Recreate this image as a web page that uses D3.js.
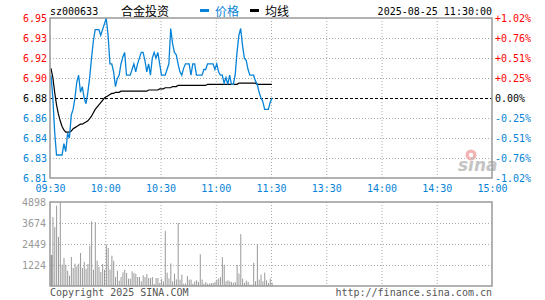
<!DOCTYPE html>
<html>
<head>
<meta charset="utf-8">
<script src="https://cdn.jsdelivr.net/npm/d3@7"></script>
<style>
  body { margin: 0; background: #fff; }
  text { font-family: "DejaVu Sans Mono", monospace; font-size: 10px; }
</style>
</head>
<body>
<div id="chart"></div>
<script>
const SVG_WIDTH = 545;
const SVG_HEIGHT = 300;
const PLOT = { LEFT: 50, RIGHT: 492, TOP: 18, BOTTOM: 178 };   //分时区
const VOL = { TOP: 202, BOTTOM: 286 };                          //成交量区
const RED = '#ff0000', BLUE = '#0683d6', GRAY = '#999999';

// ---- 数据 ----
const stockCode = 'sz000633';
const stockName = '合金投资';
const stamp = '2025-08-25 11:30:00';
const prevClose = 6.88;
const priceRange = [6.8098, 6.9502];
const priceTicks = ['6.95', '6.93', '6.92', '6.90', '6.88', '6.86', '6.84', '6.83', '6.81'];
const pctTicks = ['+1.02%', '+0.76%', '+0.51%', '+0.25%', '0.00%', '-0.25%', '-0.51%', '-0.76%', '-1.02%'];
const timeTicks = ['09:30', '10:00', '10:30', '11:00', '11:30', '13:30', '14:00', '14:30', '15:00'];
const volTicks = ['4898', '3674', '2449', '1224'];
const volMax = 4898;

// 每分钟价格 09:30-11:30
const prices = [6.90, 6.88, 6.85, 6.83, 6.83, 6.83, 6.83, 6.84, 6.833, 6.849,
  6.845, 6.865, 6.87, 6.88, 6.894, 6.90, 6.885, 6.89, 6.88, 6.875,
  6.885, 6.898, 6.915, 6.93, 6.94, 6.94, 6.94, 6.935, 6.94, 6.945,
  6.95, 6.935, 6.91, 6.91, 6.903, 6.89, 6.897, 6.90, 6.91, 6.916,
  6.92, 6.90, 6.90, 6.90, 6.905, 6.91, 6.903, 6.91, 6.915, 6.92,
  6.92, 6.913, 6.903, 6.91, 6.90, 6.915, 6.92, 6.915, 6.92, 6.91,
  6.90, 6.90, 6.90, 6.905, 6.91, 6.941, 6.928, 6.92, 6.918, 6.91,
  6.903, 6.90, 6.906, 6.91, 6.91, 6.91, 6.90, 6.91, 6.91, 6.90,
  6.90, 6.90, 6.90, 6.905, 6.905, 6.91, 6.91, 6.91, 6.91, 6.905,
  6.91, 6.903, 6.90, 6.90, 6.893, 6.898, 6.892, 6.90, 6.892, 6.892,
  6.90, 6.92, 6.935, 6.941, 6.926, 6.915, 6.913, 6.905, 6.90, 6.90,
  6.90, 6.895, 6.892, 6.885, 6.88, 6.877, 6.87, 6.87, 6.87, 6.876,
  6.88];

// 均价
const avgPrices = [6.906, 6.898, 6.885, 6.874, 6.866, 6.860, 6.855, 6.852, 6.850, 6.850,
  6.850, 6.851, 6.853, 6.854, 6.855, 6.856, 6.857, 6.857, 6.858, 6.859,
  6.860, 6.862, 6.864, 6.867, 6.870, 6.872, 6.874, 6.876, 6.878, 6.880,
  6.881, 6.882, 6.883, 6.884, 6.884, 6.885, 6.885, 6.885, 6.886, 6.886,
  6.886, 6.886, 6.886, 6.886, 6.886, 6.886, 6.886, 6.886, 6.886, 6.886,
  6.886, 6.886, 6.886, 6.887, 6.887, 6.887, 6.887, 6.887, 6.887, 6.888,
  6.888, 6.888, 6.889, 6.889, 6.889, 6.889, 6.890, 6.890, 6.890, 6.891,
  6.891, 6.891, 6.891, 6.891, 6.891, 6.891, 6.891, 6.891, 6.891, 6.891,
  6.891, 6.891, 6.891, 6.891, 6.891, 6.892, 6.892, 6.892, 6.892, 6.892,
  6.892, 6.892, 6.892, 6.892, 6.892, 6.892, 6.892, 6.892, 6.892, 6.892,
  6.892, 6.892, 6.893, 6.893, 6.893, 6.893, 6.893, 6.893, 6.893, 6.893,
  6.893, 6.893, 6.892, 6.892, 6.892, 6.892, 6.892, 6.892, 6.892, 6.892,
  6.892];

// 成交量(手)
const volumes = [1808, 4023, 3440, 4684, 2857, 4898, 1244, 1633, 1244, 894,
  602, 1691, 1050, 1302, 1147, 1302, 1924, 1050, 1399, 1011,
  1283, 2352, 3771, 952, 3732, 1477, 1108, 816, 1283, 952,
  2410, 2216, 952, 1769, 1477, 525, 894, 311, 525, 797,
  952, 758, 428, 428, 855, 758, 700, 525, 525, 272,
  622, 525, 700, 466, 466, 525, 117, 466, 466, 175,
  408, 272, 3213, 784, 431, 1313, 274, 725, 392, 3680,
  372, 666, 137, 137, 588, 372, 372, 137, 274, 333,
  235, 1850, 372, 137, 235, 137, 137, 176, 176, 235,
  372, 431, 529, 1680, 1240, 274, 333, 274, 235, 176,
  235, 1240, 725, 3025, 431, 176, 313, 235, 78, 78,
  1350, 274, 2450, 372, 666, 274, 784, 333, 176, 431,
  196];

const svg = d3.select('#chart').append('svg')
  .attr('width', SVG_WIDTH)
  .attr('height', SVG_HEIGHT)
  .style('background', '#fff');

// 比例尺
const xScale = d3.scaleLinear().domain([0, 240]).range([PLOT.LEFT, PLOT.RIGHT]);
const yScale = d3.scaleLinear().domain(priceRange).range([PLOT.BOTTOM, PLOT.TOP]);
const vScale = d3.scaleLinear().domain([0, volMax]).range([VOL.BOTTOM, VOL.TOP]);

const priceLevels = priceTicks.map((d, i) => priceRange[1] - i * (priceRange[1] - priceRange[0]) / 8);
const timeLevels = timeTicks.map((d, i) => i * 30);
const volLevels = volTicks.map((d, i) => volMax - i * volMax / 4);

function tickColor(i) { return i < 4 ? RED : (i === 4 ? '#000' : BLUE); }

// 网格
const grid = svg.append('g').attr('stroke', '#aaa').attr('stroke-dasharray', '1,2');
grid.selectAll('.hp').data(priceLevels.filter((d, i) => i > 0 && i < 8 && i !== 4)).enter()
  .append('line')
  .attr('x1', PLOT.LEFT).attr('x2', PLOT.RIGHT)
  .attr('y1', d => yScale(d) + 0.5).attr('y2', d => yScale(d) + 0.5);
grid.selectAll('.hv').data(volLevels.slice(1)).enter()
  .append('line')
  .attr('x1', PLOT.LEFT).attr('x2', PLOT.RIGHT)
  .attr('y1', d => vScale(d) + 0.5).attr('y2', d => vScale(d) + 0.5);
grid.selectAll('.vt').data(timeLevels.slice(1, 8)).enter()
  .append('g')
  .each(function (d) {
    const g = d3.select(this);
    g.append('line').attr('x1', xScale(d) + 0.5).attr('x2', xScale(d) + 0.5)
      .attr('y1', PLOT.TOP).attr('y2', PLOT.BOTTOM);
    g.append('line').attr('x1', xScale(d) + 0.5).attr('x2', xScale(d) + 0.5)
      .attr('y1', VOL.TOP).attr('y2', VOL.BOTTOM);
  });

// 昨收虚线
svg.append('line')
  .attr('x1', PLOT.LEFT).attr('x2', PLOT.RIGHT)
  .attr('y1', yScale(prevClose) + 0.5).attr('y2', yScale(prevClose) + 0.5)
  .attr('stroke', '#000').attr('stroke-dasharray', '3,2');

// sina 水印
const mark = svg.append('g');
mark.append('circle').attr('cx', 471).attr('cy', 155).attr('r', 5.5).attr('fill', '#f2b3b3');
mark.append('circle').attr('cx', 471).attr('cy', 155).attr('r', 2.2).attr('fill', '#fff');
mark.append('text').attr('x', 458).attr('y', 171)
  .style('font-family', 'DejaVu Sans').style('font-size', '17px')
  .style('font-style', 'italic').style('font-weight', 'bold')
  .attr('fill', '#c4c4c4').text('sina');

// 成交量柱
svg.append('g').selectAll('rect')
  .data(volumes).enter()
  .append('rect')
  .attr('x', (d, i) => xScale(i) + 0.6)
  .attr('y', d => vScale(d))
  .attr('width', (d, i) => i === 0 ? 2 : 1)
  .attr('height', d => VOL.BOTTOM - vScale(d))
  .attr('fill', GRAY);

// 均线
svg.append('path')
  .datum(avgPrices)
  .attr('fill', 'none').attr('stroke', '#000').attr('stroke-width', 1.2)
  .attr('d', d3.line().x((d, i) => xScale(i) + 1).y(d => yScale(d)));

// 价格线
svg.append('path')
  .datum(prices)
  .attr('fill', 'none').attr('stroke', BLUE).attr('stroke-width', 1.3)
  .attr('d', d3.line().x((d, i) => xScale(i) + 1).y(d => yScale(d)));

// 边框
svg.append('rect').attr('x', PLOT.LEFT).attr('y', PLOT.TOP)
  .attr('width', PLOT.RIGHT - PLOT.LEFT).attr('height', PLOT.BOTTOM - PLOT.TOP)
  .attr('fill', 'none').attr('stroke', GRAY).attr('stroke-width', 1.5);
svg.append('rect').attr('x', PLOT.LEFT).attr('y', VOL.TOP)
  .attr('width', PLOT.RIGHT - PLOT.LEFT).attr('height', VOL.BOTTOM - VOL.TOP)
  .attr('fill', 'none').attr('stroke', GRAY).attr('stroke-width', 1.5);

// 左侧价格坐标
const axisL = svg.append('g').attr('transform', `translate(${PLOT.LEFT},0)`)
  .call(d3.axisLeft(yScale).tickValues(priceLevels).tickFormat((d, i) => priceTicks[i]).tickSize(0).tickPadding(3));
axisL.select('.domain').remove();
axisL.selectAll('text').attr('fill', (d, i) => tickColor(i)).style('font-family', null).style('font-size', null);
axisL.attr('font-family', null).attr('font-size', null);

// 右侧涨跌幅坐标
const axisR = svg.append('g').attr('transform', `translate(${PLOT.RIGHT},0)`)
  .call(d3.axisRight(yScale).tickValues(priceLevels).tickFormat((d, i) => pctTicks[i]).tickSize(0).tickPadding(3));
axisR.select('.domain').remove();
axisR.selectAll('text').attr('fill', (d, i) => tickColor(i));
axisR.attr('font-family', null).attr('font-size', null);

// 时间坐标
const axisB = svg.append('g').attr('transform', `translate(0,${PLOT.BOTTOM})`)
  .call(d3.axisBottom(xScale).tickValues(timeLevels).tickFormat((d, i) => timeTicks[i]).tickSize(0).tickPadding(7));
axisB.select('.domain').remove();
axisB.selectAll('text').attr('fill', BLUE);
axisB.attr('font-family', null).attr('font-size', null);

// 成交量坐标
const axisV = svg.append('g').attr('transform', `translate(${PLOT.LEFT - 1},0)`)
  .call(d3.axisLeft(vScale).tickValues(volLevels).tickFormat((d, i) => volTicks[i]).tickSize(0).tickPadding(3));
axisV.select('.domain').remove();
axisV.selectAll('text').attr('fill', GRAY);
axisV.attr('font-family', null).attr('font-size', null);

// 标题与图例
svg.append('text').attr('x', PLOT.LEFT).attr('y', 15).attr('fill', '#000').text(stockCode);
svg.append('text').attr('x', 121).attr('y', 16)
  .style('font-family', '"Noto Sans CJK SC"').style('font-size', '12px').text(stockName);
svg.append('rect').attr('x', 200).attr('y', 9).attr('width', 9).attr('height', 3).attr('fill', BLUE);
svg.append('text').attr('x', 215).attr('y', 16).attr('fill', BLUE)
  .style('font-family', '"Noto Sans CJK SC"').style('font-size', '12px').text('价格');
svg.append('rect').attr('x', 250).attr('y', 9).attr('width', 9).attr('height', 3).attr('fill', '#000');
svg.append('text').attr('x', 265).attr('y', 16)
  .style('font-family', '"Noto Sans CJK SC"').style('font-size', '12px').text('均线');
svg.append('text').attr('x', PLOT.RIGHT).attr('y', 15).attr('text-anchor', 'end').text(stamp);

// 底部版权
svg.append('text').attr('x', PLOT.LEFT).attr('y', 296).attr('fill', '#555').text('Copyright 2025 SINA.COM');
svg.append('text').attr('x', PLOT.RIGHT).attr('y', 296).attr('text-anchor', 'end').attr('fill', '#555')
  .text('http://finance.sina.com.cn');
</script>
</body>
</html>
